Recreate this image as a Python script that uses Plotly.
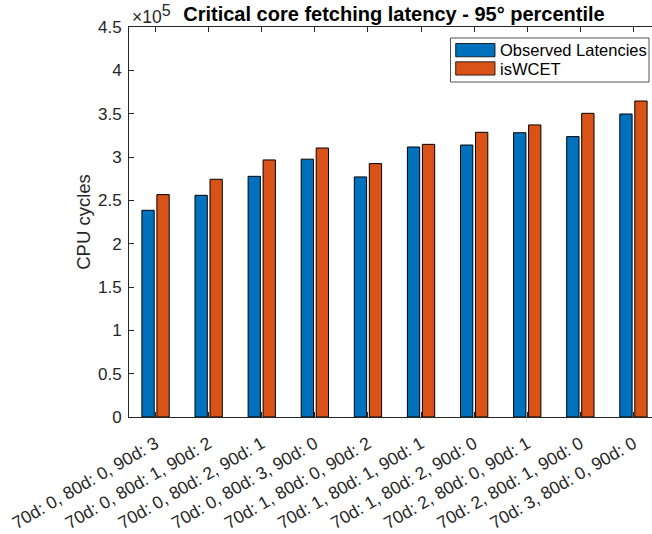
import plotly.graph_objects as go

# Configurations of degraded cores (70d / 80d / 90d counts)
categories = [
    "70d: 0, 80d: 0, 90d: 3",
    "70d: 0, 80d: 1, 90d: 2",
    "70d: 0, 80d: 2, 90d: 1",
    "70d: 0, 80d: 3, 90d: 0",
    "70d: 1, 80d: 0, 90d: 2",
    "70d: 1, 80d: 1, 90d: 1",
    "70d: 1, 80d: 2, 90d: 0",
    "70d: 2, 80d: 0, 90d: 1",
    "70d: 2, 80d: 1, 90d: 0",
    "70d: 3, 80d: 0, 90d: 0",
]

# 95th percentile latency, CPU cycles
observed = [238500, 255800, 277700, 297500, 277000, 311500, 313800, 328000, 323500, 349600]
iswcet = [256600, 274300, 296600, 310400, 292400, 314600, 328500, 337000, 350400, 364600]

series_names = ["Observed Latencies", "isWCET"]
series_colors = ["#0072BD", "#D95319"]

y_ticks = [0, 0.5, 1, 1.5, 2, 2.5, 3, 3.5, 4, 4.5]
SCALE = 1e5

W, H = 652, 534
L, R, T, B = 129, 0, 27, 117
plot_w = W - L - R
plot_h = H - T - B

FONT = "Liberation Sans, Arial, Helvetica, sans-serif"
AX = "#262626"

fig = go.Figure()
for name, vals, col in zip(series_names, [observed, iswcet], series_colors):
    fig.add_trace(go.Bar(
        x=categories,
        y=[v / SCALE for v in vals],
        name=name,
        marker=dict(color=col, line=dict(color="black", width=1)),
        showlegend=False,
    ))


def px_x(p):
    return (p - L) / plot_w


def px_y(p):
    return (H - B - p) / plot_h


# legend box drawn as shapes so the swatches keep the wide MATLAB look
shapes = [
    dict(type="rect", xref="paper", yref="paper",
         x0=px_x(450.5), x1=px_x(649), y0=px_y(82), y1=px_y(38),
         line=dict(color=AX, width=0.8), fillcolor="white", layer="above"),
]
annotations = []
for i, (name, col) in enumerate(zip(series_names, series_colors)):
    top = 43.5 + i * 18.3
    shapes.append(dict(type="rect", xref="paper", yref="paper",
                       x0=px_x(455.7), x1=px_x(495), y0=px_y(top + 13.3), y1=px_y(top),
                       line=dict(color="black", width=0.8), fillcolor=col, layer="above"))
    annotations.append(dict(xref="paper", yref="paper", x=px_x(498), y=px_y(top + 6.8),
                            xanchor="left", yanchor="middle", text=name, showarrow=False,
                            font=dict(family=FONT, size=16.5, color="black")))

# exponent label above the y axis
annotations.append(dict(xref="paper", yref="paper", x=px_x(130), y=px_y(27),
                        xanchor="left", yanchor="bottom", yshift=-2,
                        text="\u00d710<sup><span style='font-size:16px'>5</span></sup>",
                        showarrow=False,
                        font=dict(family=FONT, size=17.5, color=AX)))

fig.update_layout(
    width=W, height=H,
    margin=dict(l=L, r=R, t=T, b=B, pad=0),
    paper_bgcolor="white", plot_bgcolor="white",
    barmode="group", bargap=0.435, bargroupgap=0.18,
    title=dict(text="<b>Critical core fetching latency - 95\u00b0 percentile</b>",
               x=394 / W, xanchor="center", y=1 - 13.5 / H, yanchor="middle",
               yref="container", xref="container",
               font=dict(family=FONT, size=20, color="black")),
    font=dict(family=FONT, color=AX),
    shapes=shapes,
    annotations=annotations,
    showlegend=False,
)

fig.update_xaxes(
    type="category",
    range=[-0.5, -0.5 + plot_w / 53.1],
    showline=True, linecolor=AX, linewidth=0.8,
    mirror="ticks", ticks="inside", ticklen=5, tickcolor=AX, tickwidth=0.8,
    tickangle=-30, tickfont=dict(family=FONT, size=17.5, color=AX),
    ticklabelstandoff=9,
    showgrid=False, zeroline=False,
)
fig.update_yaxes(
    range=[0, 4.5],
    tickvals=y_ticks, ticktext=[f"{v:g}" for v in y_ticks],
    showline=True, linecolor=AX, linewidth=0.8,
    ticks="inside", ticklen=5, tickcolor=AX, tickwidth=0.8,
    tickfont=dict(family=FONT, size=17, color=AX),
    ticklabelstandoff=3,
    title=dict(text="CPU cycles", font=dict(family=FONT, size=18.5, color=AX), standoff=2),
    showgrid=False, zeroline=False,
)

fig.write_html("out.html")
